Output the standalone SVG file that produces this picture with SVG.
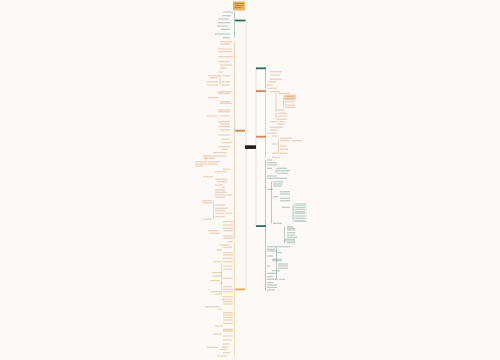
<svg xmlns="http://www.w3.org/2000/svg" width="500" height="360" viewBox="0 0 500 360">
<style>
.t{fill:none;stroke-width:1.1;stroke-linecap:butt}
.to{stroke:#d0804e;opacity:.42}
.tg{stroke:#3c7c68;opacity:.42}
.ty{stroke:#c99a3e;opacity:.48}
.c{fill:none;stroke-width:.6}
.co{stroke:#eab08c}
.cg{stroke:#7cae9c}
.cy{stroke:#e6c984}
.cr{stroke:#e4d3c8}
</style>
<rect width="500" height="360" fill="#fdf9f7"/>
<g id="connectors">
<path class="c cr" d="M246 20.5V289.5M256 68.3V226"/>
<path class="c cg" d="M234.5 12V37.7M265.5 68.3V88.3M265.5 160V290M271.5 181.7V223.3M293 205V220.7M284.5 226.7V242.7M276.5 246.7V279.3M276 168.3V173.3"/>
<path class="c co" d="M234.5 41.7V238.3M265.5 91.7V157.3M276 93.3V119.3M283.5 97.3V107.3M278.5 138.3V153.3M220 75.7V85M206 156V166M213.5 200.7V219.3"/>
<path class="c cy" d="M234.5 241.7V356M221.5 261.7V291.7"/>
</g>
<g id="title">
<rect x="233" y="1.5" width="12" height="9" fill="#e9b458" rx=".5"/>
<path d="M234.5 3.5h9M234.5 5.5h9M234.5 7.5h7" stroke="#8a5a1a" stroke-width=".8" opacity=".6"/>
</g>
<g id="root"><rect x="245" y="145.3" width="11" height="3.6" fill="#1e1e1e"/></g>
<g id="left-green">
<rect x="235" y="19.6" width="10.5" height="1.8" fill="#2e6e5c"/>
<path class="t tg" d="M223 12h10M222 15.7h9M218 19h11M218 22.7h12M217 26h11M221 29.3h9M215 34h15M223 37.7h7"/>
</g>
<g id="left-orange">
<rect x="235" y="129.8" width="10" height="1.8" fill="#d6854a"/>
<path class="t to" d="M220 41.7h12M220 44h10M218 49h14M218 51.7h14M218 56.7h15M218 61.7h12M220 65h12M220 68.3h7M218 72h5M208 75.7h12M222 75.7h8M210 77.7h8M207 81.7h11M221 81.7h9M207 85h11M221 85h9M218 91.7h14M218 93.3h12M208 97.7h10M220 101.7h10M220 103.3h12M218 110h12M218 111.7h12M207 116h11M220 116h10M218 121.7h12M220 124h10M218 126.7h12M220 130h10M218 135h12M222 139.3h8M222 142.7h10M218 146.7h12M222 149.3h6M213 152.7h14M203 156h12M215 156h12M203 158.3h12M195 161.7h10M208 161.7h12M195 164h10M208 164h10M195 166h8M223 169.3h7M215 171.7h12M203 176.7h10M215 179.3h12M217 181.7h10M215 185h8M222 187.3h3M215 190h10M215 192.3h12M215 195h12M226 195h6M215 197.3h10M202 200.7h10M202 202.7h10M215 205h10M215 208.3h12M215 210.7h10M215 213.3h10M226 213.3h6M215 216.7h10M202 219.3h10M223 221.7h11M223 225h10M223 228.3h10M208 230.7h10M223 230.7h10M210 233.3h10M223 236h10M223 238.3h11"/>
</g>
<g id="left-yellow">
<rect x="235" y="288.5" width="10" height="1.8" fill="#e2ad45"/>
<path class="t ty" d="M227 241.7h6M220 245h10M223 247.3h9M217 250h5M223 252.7h10M223 255h10M223 258.3h10M213 261.7h8M223 261.7h10M223 266h10M223 269.3h9M212 272.7h10M213 276h9M223 278.3h10M210 280.7h10M220 283.3h3M223 286.7h9M223 289.3h10M210 291.7h11M223 291.7h10M215 294h7M223 296.7h10M222 299.3h10M223 301.7h10M223 304h10M205 306.7h15M218 309.3h4M223 312.7h10M223 315h10M223 317.3h10M223 320h10M223 323.3h10M215 326h8M223 329.3h10M223 330.9h10M213 334h9M223 336h10M223 340h9M223 344h7M207 347.3h11M222 347.3h6M220 349.3h7M223 352.7h7M217 356h10"/>
</g>
<g id="right-green-1">
<rect x="256" y="67.4" width="10" height="1.8" fill="#2e6e5c"/>
<path class="t to" d="M270 71.7h12M270 75h10M270 79.3h12M268 81.7h9M267 85h6M267 88.3h10"/>
</g>
<g id="right-orange-1">
<rect x="256" y="90.2" width="10" height="1.8" fill="#d6854a"/>
<rect x="284.5" y="95" width="11" height="4.6" fill="#f6dcc4" stroke="#e2a070" stroke-width=".4"/>
<path class="t to" d="M270 91.7h10M278 93.3h12M285.5 96.5h9M285.5 98.3h9M285 101.7h10M285 105h10M285 107.3h10M277 110h8M278 113.3h9M278 116h9M277 119.3h10M270 121.7h7M279 121.7h6M277 124h8M270 127.3h13M270 130h8M267 133.3h10"/>
</g>
<g id="right-orange-2">
<rect x="256" y="135.8" width="10" height="1.8" fill="#d6854a"/>
<path class="t to" d="M272 136h6M280 138.3h12M280 140.7h10M292 140.7h10M272 144h6M280 146h7M280 149.3h8M272 153.3h6M280 153.3h7M272 157.3h8"/>
</g>
<g id="right-green-2">
<rect x="256" y="225.2" width="10" height="1.8" fill="#2e6e5c"/>
<rect x="294" y="203.8" width="12" height="18" fill="none" stroke="#9cc3b4" stroke-width=".4"/>
<path class="t tg" d="M267 160h5M267 162.7h10M267 165h10M267 168.3h5M277 168.3h10M277 170.7h13M277 173.3h11M267 176h10M267 178.3h20M273 181.7h10M273 184h10M273 186h9M267 189.3h6M280 191.7h10M280 194h10M273 196.7h5M280 198.3h10M280 200.7h10M295 205h10M282 207.3h8M295 207.3h10M295 209.3h10M295 211.7h10M295 213.3h10M295 216h10M295 218.3h10M295 220.7h10M273 223.3h9M287 226.7h6M287 228.3h8M287 230h8M287 232.7h8M287 235h8M287 237.3h10M285 239.3h10M285 241h10M287 242.7h8M267 246.7h10M278 246.7h12M267 249.3h8M267 251h10M277 252.7h5M267 256h6M272 259.3h10M272 260.7h10M278 264h10M267 266h3M278 266h10M278 268.3h10M272 270.7h8M267 273.3h10M267 276.7h6M267 279.3h11M279 279.3h6M267 282.7h6M267 285h10M267 287.3h10M267 290h8"/>
</g>
</svg>
